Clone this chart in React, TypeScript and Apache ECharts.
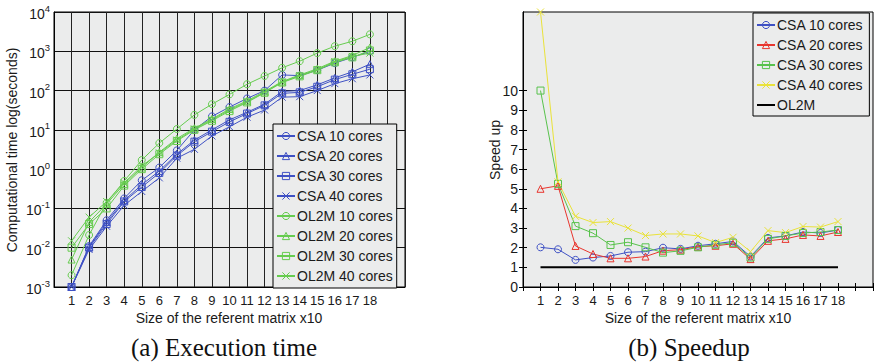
import React, { useEffect, useRef } from 'react';
import * as echarts from 'echarts';

const sizes = [1, 2, 3, 4, 5, 6, 7, 8, 9, 10, 11, 12, 13, 14, 15, 16, 17, 18];

// (a) Execution time (seconds, log scale)
const csa10Time = [0.001, 0.011, 0.05, 0.18, 0.52, 1.1, 3.0, 10, 22, 38, 63, 100, 250, 240, 330, 500, 700, 1000];
const csa20Time = [0.001, 0.0105, 0.045, 0.16, 0.4, 0.9, 2.4, 5.5, 10, 18, 28, 45, 95, 100, 140, 210, 300, 470];
const csa30Time = [0.001, 0.01, 0.04, 0.15, 0.35, 0.8, 2.2, 5, 9, 16, 26, 42, 85, 90, 125, 190, 260, 350];
const csa40Time = [0.001, 0.009, 0.035, 0.12, 0.27, 0.6, 1.9, 3.2, 7, 12, 21, 32, 68, 70, 100, 150, 200, 250];
const ol2m10Time = [0.002, 0.021, 0.14, 0.5, 1.7, 4.6, 10.5, 24, 45, 80, 145, 235, 380, 560, 900, 1350, 1800, 2700];
const ol2m20Time = [0.005, 0.045, 0.13, 0.42, 1.1, 2.7, 6, 11, 19, 34, 55, 95, 170, 250, 360, 560, 780, 1250];
const ol2m30Time = [0.01, 0.04, 0.1, 0.38, 1.0, 2.4, 5.2, 10, 17, 30, 50, 88, 160, 230, 330, 520, 700, 1050];
const ol2m40Time = [0.015, 0.06, 0.15, 0.45, 1.2, 2.6, 5.5, 10.5, 18, 32, 52, 90, 165, 240, 340, 540, 740, 900];

// (b) Speedup
const csa10Speed = [2.02, 1.92, 1.38, 1.5, 1.58, 1.77, 1.8, 2.0, 1.94, 2.1, 2.2, 2.32, 1.55, 2.5, 2.6, 2.8, 2.75, 2.9];
const csa20Speed = [5.0, 5.15, 2.09, 1.68, 1.46, 1.46, 1.55, 1.85, 1.9, 2.05, 2.1, 2.2, 1.42, 2.35, 2.45, 2.65, 2.6, 2.8];
const csa30Speed = [10, 5.25, 3.1, 2.74, 2.14, 2.28, 2.02, 1.75, 1.84, 2.02, 2.15, 2.25, 1.5, 2.45, 2.6, 2.75, 2.8, 2.9];
const csa40Speed = [14, 5.35, 3.6, 3.28, 3.33, 3.0, 2.62, 2.7, 2.7, 2.6, 2.26, 2.53, 1.8, 2.87, 2.77, 3.08, 3.05, 3.33];
const ol2mSpeed = [1, 1, 1, 1, 1, 1, 1, 1, 1, 1, 1, 1, 1, 1, 1, 1, 1, 1];

const leftNames = ['CSA 10 cores', 'CSA 20 cores', 'CSA 30 cores', 'CSA 40 cores', 'OL2M 10 cores', 'OL2M 20 cores', 'OL2M 30 cores', 'OL2M 40 cores'];
const rightNames = ['CSA 10 cores ', 'CSA 20 cores ', 'CSA 30 cores ', 'CSA 40 cores ', 'OL2M '];
const speedTicks = [0, 1, 2, 3, 4, 5, 6, 7, 8, 9, 10];

const FONT = '"Liberation Sans", Arial, sans-serif';
const BLUE = '#3f51c4';
const GREEN = '#66cc4f';
const RED = '#e8362e';
const GREEN2 = '#58c24c';
const YELLOW = '#e9e23a';
const BG = '#ebecec';
const X_SYM = 'path://M0,0L10,10M10,0L0,10';

function mk(name: string, vals: number[], color: string, symbol: string, xi: number, yi: number) {
  return {
    name,
    type: 'line',
    xAxisIndex: xi,
    yAxisIndex: yi,
    data: sizes.map((s, i) => [s, vals[i]]),
    symbol,
    symbolSize: symbol === 'none' ? 0 : 7,
    showSymbol: symbol !== 'none',
    lineStyle: { color, width: symbol === 'none' ? 2 : 1 },
    itemStyle: { color: 'rgba(0,0,0,0)', borderColor: color, borderWidth: 1 },
    emphasis: { disabled: true },
    z: 3,
  };
}

export default function App() {
  const ref = useRef<HTMLDivElement>(null);
  useEffect(() => {
    if (!ref.current) return;
    const chart = echarts.init(ref.current, undefined, { renderer: 'svg' });
    const axisLabelBase = { fontFamily: FONT, fontSize: 13, color: '#1a1a1a' };
    const hidden = { color: 'rgba(0,0,0,0)', borderColor: 'rgba(0,0,0,0)', borderWidth: 0 };
    const legendItemStyle = { color: 'rgba(0,0,0,0)', borderWidth: 1 };
    const option: any = {
      animation: false,
      textStyle: { fontFamily: FONT },
      grid: [
        { left: 54, top: 12, width: 351, height: 275, show: true, backgroundColor: BG, borderColor: '#000', borderWidth: 1 },
        { left: 523, top: 12, width: 350, height: 275, show: true, backgroundColor: BG, borderColor: '#000', borderWidth: 1 },
      ],
      xAxis: [
        {
          gridIndex: 0, type: 'value', min: 0, max: 20, interval: 1,
          axisLine: { show: true, lineStyle: { color: '#000' } },
          axisTick: { show: false },
          splitLine: { show: true, lineStyle: { color: '#222', width: 1 } },
          axisLabel: { ...axisLabelBase, margin: 7, formatter: (v: number) => (v >= 1 && v <= 18 ? String(v) : '') },
        },
        {
          gridIndex: 1, type: 'value', min: 0, max: 20, interval: 1,
          axisLine: { show: true, lineStyle: { color: '#000' } },
          axisTick: { show: true, inside: true, length: 4, lineStyle: { color: '#000' } },
          splitLine: { show: false },
          axisLabel: { ...axisLabelBase, margin: 7, formatter: (v: number) => (v >= 1 && v <= 18 ? String(v) : '') },
        },
        {
          gridIndex: 1, type: 'value', min: 0, max: 20, interval: 1, position: 'top',
          axisLine: { show: true, lineStyle: { color: '#000' } },
          axisTick: { show: true, inside: true, length: 4, lineStyle: { color: '#000' } },
          splitLine: { show: false },
          axisLabel: { show: false },
        },
      ],
      yAxis: [
        {
          gridIndex: 0, type: 'log', logBase: 10, min: 0.001, max: 10000,
          axisLine: { show: true, lineStyle: { color: '#000' } },
          axisTick: { show: false },
          splitLine: { show: true, lineStyle: { color: '#111', width: 1 } },
          axisLabel: {
            margin: 4,
            formatter: (v: number) => '{b|10}{s|' + Math.round(Math.log10(v)) + '}',
            rich: {
              b: { fontFamily: FONT, fontSize: 14, color: '#1a1a1a', verticalAlign: 'bottom' },
              s: { fontFamily: FONT, fontSize: 9.5, color: '#1a1a1a', verticalAlign: 'bottom', padding: [0, 0, 8, 0] },
            },
          },
        },
        {
          gridIndex: 1, type: 'value', min: 0, max: 14, interval: 1,
          axisLine: { show: true, lineStyle: { color: '#000' } },
          axisTick: { show: true, inside: true, length: 4, customValues: speedTicks, lineStyle: { color: '#000' } },
          splitLine: { show: false },
          axisLabel: { ...axisLabelBase, fontSize: 14, margin: 5, customValues: speedTicks, formatter: (v: number) => (v <= 10 ? String(v) : '') },
        },
        {
          gridIndex: 1, type: 'value', min: 0, max: 14, interval: 1, position: 'right',
          axisLine: { show: true, lineStyle: { color: '#000' } },
          axisTick: { show: true, inside: true, length: 4, customValues: speedTicks, lineStyle: { color: '#000' } },
          splitLine: { show: false },
          axisLabel: { show: false },
        },
      ],
      legend: [
        {
          data: leftNames,
          orient: 'vertical',
          left: 273, top: 124, width: 131,
          padding: [5, 4, 5, 3],
          itemGap: 6, itemWidth: 18, itemHeight: 9,
          itemStyle: legendItemStyle,
          borderColor: '#000', borderWidth: 1, backgroundColor: BG,
          textStyle: { fontFamily: FONT, fontSize: 14, color: '#1a1a1a', lineHeight: 14, padding: [0, 0, 0, -3] },
          selectedMode: false,
        },
        {
          data: [
            rightNames[0], rightNames[1], rightNames[2], rightNames[3],
            { name: rightNames[4], itemStyle: hidden },
          ],
          orient: 'vertical',
          left: 753, top: 13,
          padding: [5, 6, 4, 3],
          itemGap: 6, itemWidth: 18, itemHeight: 9,
          itemStyle: legendItemStyle,
          borderColor: '#000', borderWidth: 1, backgroundColor: BG,
          formatter: (n: string) => n.trim(),
          textStyle: { fontFamily: FONT, fontSize: 14, color: '#1a1a1a', lineHeight: 14, padding: [0, 0, 0, -3] },
          selectedMode: false,
        },
      ],
      series: [
        mk(leftNames[0], csa10Time, BLUE, 'circle', 0, 0),
        mk(leftNames[1], csa20Time, BLUE, 'triangle', 0, 0),
        mk(leftNames[2], csa30Time, BLUE, 'rect', 0, 0),
        mk(leftNames[3], csa40Time, BLUE, X_SYM, 0, 0),
        mk(leftNames[4], ol2m10Time, GREEN, 'circle', 0, 0),
        mk(leftNames[5], ol2m20Time, GREEN, 'triangle', 0, 0),
        mk(leftNames[6], ol2m30Time, GREEN, 'rect', 0, 0),
        mk(leftNames[7], ol2m40Time, GREEN, X_SYM, 0, 0),
        mk(rightNames[0], csa10Speed, BLUE, 'circle', 1, 1),
        mk(rightNames[1], csa20Speed, RED, 'triangle', 1, 1),
        mk(rightNames[2], csa30Speed, GREEN2, 'rect', 1, 1),
        mk(rightNames[3], csa40Speed, YELLOW, X_SYM, 1, 1),
        mk(rightNames[4], ol2mSpeed, '#000', 'none', 1, 1),
      ],
      graphic: [
        { type: 'text', x: 12, y: 150, rotation: Math.PI / 2, style: { text: 'Computational time log(seconds)', font: '14px ' + FONT, fill: '#1a1a1a', align: 'center', verticalAlign: 'middle' } },
        { type: 'text', x: 229, y: 318, style: { text: 'Size of the referent matrix x10', font: '14px ' + FONT, fill: '#1a1a1a', align: 'center', verticalAlign: 'middle' } },
        { type: 'text', x: 495, y: 150, rotation: Math.PI / 2, style: { text: 'Speed up', font: '14px ' + FONT, fill: '#1a1a1a', align: 'center', verticalAlign: 'middle' } },
        { type: 'text', x: 698, y: 318, style: { text: 'Size of the referent matrix x10', font: '14px ' + FONT, fill: '#1a1a1a', align: 'center', verticalAlign: 'middle' } },
        { type: 'text', x: 224, y: 347, style: { text: '(a) Execution time', font: '25px "Liberation Serif", "Times New Roman", serif', fill: '#111', align: 'center', verticalAlign: 'middle' } },
        { type: 'text', x: 689, y: 347, style: { text: '(b) Speedup', font: '25px "Liberation Serif", "Times New Roman", serif', fill: '#111', align: 'center', verticalAlign: 'middle' } },
      ],
    };
    chart.setOption(option);
    return () => chart.dispose();
  }, []);
  return <div ref={ref} style={{ position: 'absolute', left: 0, top: 0, width: 877, height: 364, background: '#fff' }} />;
}
